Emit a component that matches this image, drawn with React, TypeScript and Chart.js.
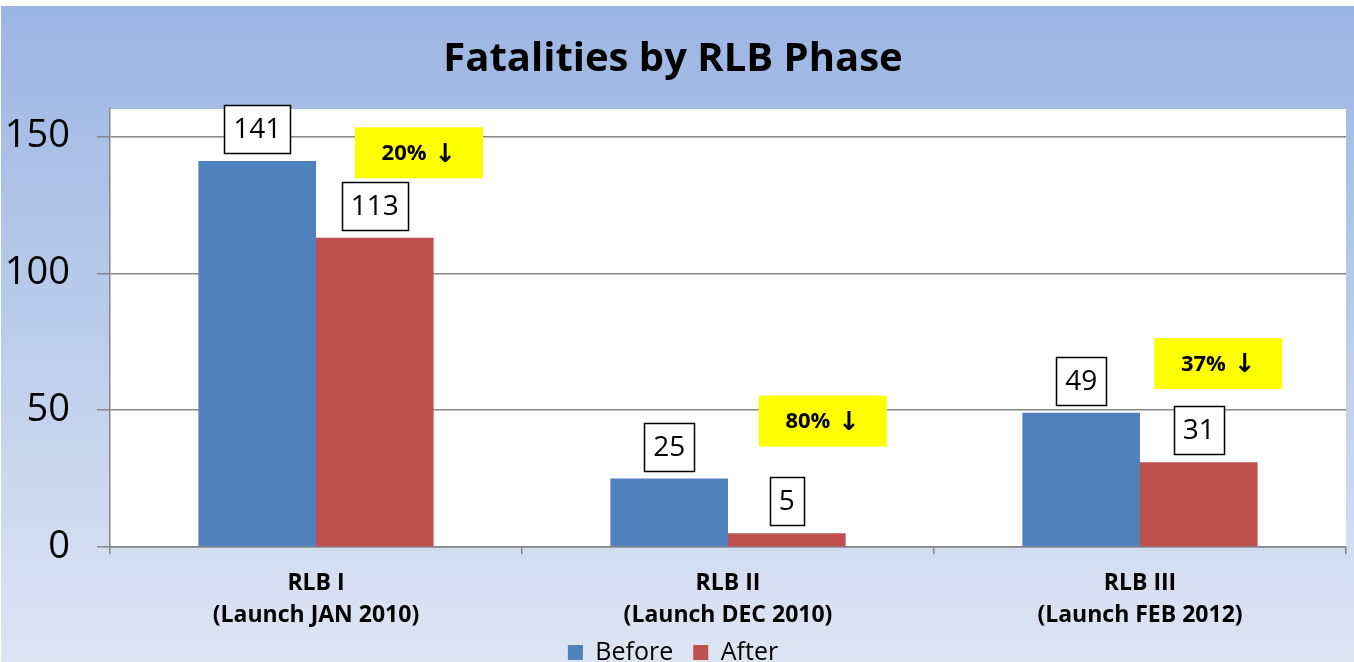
import { useEffect, useRef } from "react";
import { Chart, registerables } from "chart.js";

Chart.register(...registerables);

const categories = [
  ["RLB I", "(Launch JAN 2010)"],
  ["RLB II", "(Launch DEC 2010)"],
  ["RLB III", "(Launch FEB 2012)"],
];
const beforeValues = [141, 25, 49];
const afterValues = [113, 5, 31];
const reductionLabels = ["20% ↓", "80% ↓", "37% ↓"];
const yTickValues = [0, 50, 100, 150];

// callout anchors in data space: [category position, value]
const calloutAnchors = [
  [0.25, 144],
  [1.23, 46],
  [2.19, 67],
];

const FONT = "'Open Sans', 'DejaVu Sans', sans-serif";

const backgroundPlugin = {
  id: "bgPlugin",
  beforeDraw(chart: any) {
    const { ctx, width, height, chartArea } = chart;
    ctx.save();
    ctx.fillStyle = "#ffffff";
    ctx.fillRect(0, 0, width, height);
    const g = ctx.createLinearGradient(0, 6, 0, height);
    g.addColorStop(0, "#9BB5E3");
    g.addColorStop(1, "#DDE5F3");
    ctx.fillStyle = g;
    ctx.fillRect(1, 6, width - 1, height - 6);
    ctx.fillStyle = "#ffffff";
    ctx.fillRect(
      chartArea.left,
      chartArea.top,
      chartArea.right - chartArea.left,
      chartArea.bottom - chartArea.top
    );
    ctx.restore();
  },
};

const labelPlugin = {
  id: "labelPlugin",
  afterDatasetsDraw(chart: any) {
    const { ctx } = chart;
    ctx.save();
    ctx.font = `28px ${FONT}`;
    ctx.textAlign = "center";
    ctx.textBaseline = "middle";
    chart.data.datasets.forEach((ds: any, i: number) => {
      const meta = chart.getDatasetMeta(i);
      meta.data.forEach((bar: any, j: number) => {
        const text = String(ds.data[j]);
        const tw = ctx.measureText(text).width;
        const w = Math.round(tw + 18);
        const h = 48;
        const x = Math.round(bar.x - w / 2) + 0.5;
        const y = Math.round(bar.y - 8 - h) + 0.5;
        ctx.fillStyle = "#ffffff";
        ctx.fillRect(x, y, w, h);
        ctx.strokeStyle = "#000000";
        ctx.lineWidth = 1.5;
        ctx.strokeRect(x, y, w, h);
        ctx.fillStyle = "#000000";
        ctx.fillText(text, bar.x, y + h / 2 + 1);
      });
    });

    const xs = chart.scales.x;
    const ys = chart.scales.y;
    const numFont = `bold 22px ${FONT}`;
    const arrowFont = `bold 26px 'DejaVu Sans', sans-serif`;
    reductionLabels.forEach((txt, k) => {
      const cx = xs.getPixelForValue(calloutAnchors[k][0]);
      const cy = ys.getPixelForValue(calloutAnchors[k][1]);
      const w = 128;
      const h = 51;
      ctx.fillStyle = "#FFFF00";
      ctx.fillRect(cx - w / 2, cy - h / 2, w, h);
      const parts = txt.split(" ");
      const numPart = parts[0];
      const arrowPart = parts.slice(1).join(" ");
      ctx.font = numFont;
      const nw = ctx.measureText(numPart).width;
      ctx.font = arrowFont;
      const aw = ctx.measureText(arrowPart).width;
      const gap = 8;
      const total = nw + gap + aw;
      const x0 = cx - total / 2;
      ctx.textAlign = "left";
      ctx.fillStyle = "#000000";
      ctx.font = numFont;
      ctx.fillText(numPart, x0, cy + 1);
      ctx.font = arrowFont;
      ctx.fillText(arrowPart, x0 + nw + gap, cy + 2);
    });
    ctx.restore();
  },
};

export default function App() {
  const ref = useRef<HTMLCanvasElement | null>(null);

  useEffect(() => {
    document.body.style.margin = "0";
    if (!ref.current) return;
    const chart = new Chart(ref.current, {
      type: "bar",
      data: {
        labels: categories as any,
        datasets: [
          {
            label: "Before",
            data: beforeValues,
            backgroundColor: "#4F81BD",
            categoryPercentage: 0.571,
            barPercentage: 1,
          },
          {
            label: "After",
            data: afterValues,
            backgroundColor: "#C0504D",
            categoryPercentage: 0.571,
            barPercentage: 1,
          },
        ],
      },
      options: {
        responsive: false,
        animation: false,
        layout: { padding: { top: 6, right: 8, left: 0, bottom: -13 } },
        plugins: {
          title: {
            display: true,
            text: "Fatalities by RLB Phase",
            color: "#000000",
            font: { family: FONT, size: 40, weight: "bold", lineHeight: 1.2 },
            padding: { top: 30, bottom: 25 },
          },
          legend: {
            position: "bottom",
            labels: {
              boxWidth: 15,
              boxHeight: 15,
              color: "#000000",
              font: { family: FONT, size: 25 },
              padding: 20,
            },
          },
          tooltip: { enabled: false },
        },
        scales: {
          x: {
            grid: {
              drawOnChartArea: false,
              drawTicks: true,
              tickLength: 7,
              color: "#868686",
              lineWidth: 1.5,
              offset: true,
            },
            border: { color: "#868686", width: 1.5 },
            ticks: {
              color: "#000000",
              font: { family: FONT, size: 23, weight: "bold", lineHeight: 1.39 },
              padding: 13,
              maxRotation: 0,
              autoSkip: false,
            },
            afterFit: (s: any) => {
              s.height = 73;
              // let the two-line labels extend past the (shortened) axis box
              s._computeLabelArea = () => undefined;
            },
          },
          y: {
            min: 0,
            max: 160,
            afterBuildTicks: (s: any) => {
              s.ticks = yTickValues.map((v) => ({ value: v }));
            },
            afterFit: (s: any) => {
              s.width = 110;
            },
            grid: { color: "#868686", lineWidth: 1.5, tickLength: 13 },
            border: { color: "#868686", width: 1.5 },
            ticks: {
              color: "#000000",
              font: { family: FONT, size: 38 },
              padding: 27,
            },
          },
        },
      },
      plugins: [backgroundPlugin, labelPlugin],
    });
    return () => chart.destroy();
  }, []);

  return (
    <canvas
      ref={ref}
      width={1354}
      height={662}
      style={{ display: "block", width: 1354, height: 662 }}
    />
  );
}
